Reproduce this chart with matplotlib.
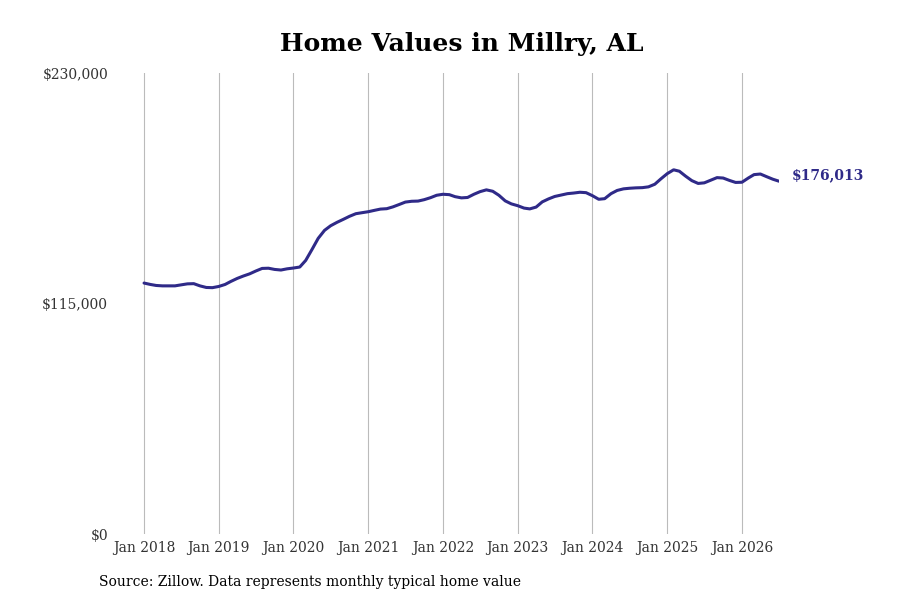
import matplotlib
matplotlib.use("Agg")
import matplotlib.pyplot as plt
import pandas as pd

plt.rcParams['font.family'] = ['DejaVu Serif']

start = "2018-01-01"
values = [
    # 2018
    125200, 124500, 124000, 123800, 123800, 123800, 124300, 124800, 124900, 123800, 123000, 122900,
    # 2019
    123500, 124500, 126000, 127500, 128700, 129800, 131200, 132500, 132600, 132000, 131700, 132300,
    # 2020
    132700, 133200, 136500, 142000, 147500, 151500, 153800, 155500, 157000, 158500, 159800, 160300,
    # 2021
    160800, 161500, 162100, 162300, 163200, 164400, 165600, 166000, 166100, 166800, 167800, 169000,
    # 2022
    169500, 169300, 168300, 167700, 167900, 169500, 170800, 171700, 171000, 169000, 166200, 164700,
    # 2023
    163800, 162600, 162200, 163100, 165700, 167200, 168400, 169100, 169800, 170100, 170500, 170300,
    # 2024
    168800, 167000, 167300, 169800, 171400, 172200, 172500, 172700, 172800, 173200, 174500, 177200,
    # 2025
    179800, 181700, 181000, 178500, 176300, 174900, 175200, 176500, 177800, 177600, 176400, 175400,
    # 2026
    175500, 177600, 179300, 179600, 178300, 177000, 176013,
]
dates = pd.date_range(start, periods=len(values), freq="MS")
title = "Home Values in Millry, AL"
source = "Source: Zillow. Data represents monthly typical home value"
y_ticks = [0, 115000, 230000]
y_labels = ["$0", "$115,000", "$230,000"]
x_years = list(range(2018, 2027))
end_label = "$176,013"
color = "#2F2A88"

fig = plt.figure(figsize=(9, 6), dpi=100)
ax = fig.add_axes([115/900, 1-534/600, (779-115)/900, (534-73)/600])
ax.plot(dates, values, color=color, lw=2.2, solid_capstyle="round")

ax.set_ylim(0, 230000)
ax.set_xlim(pd.Timestamp("2017-08-12"), dates[-1])
ax.set_yticks(y_ticks)
ax.set_yticklabels(y_labels)
xt = [pd.Timestamp(f"{y}-01-01") for y in x_years]
ax.set_xticks(xt)
ax.set_xticklabels([f"Jan {y}" for y in x_years])
ax.tick_params(axis="both", length=0, labelsize=10, colors="#333333")
ax.tick_params(axis="y", pad=5)
ax.tick_params(axis="x", pad=5)
ax.grid(axis="x", color="#bbbbbb", lw=0.8)
ax.grid(axis="y", visible=False)
for s in ax.spines.values():
    s.set_visible(False)

ax.annotate(end_label, xy=(dates[-1], values[-1]), xytext=(9.5, 4.3),
            textcoords="offset points", color=color, fontsize=10,
            fontweight="bold", va="center", ha="left", annotation_clip=False)

fig.text(0.513, 1-43.5/600, title, ha="center", va="center", fontsize=18, fontweight="bold")
fig.text(99/900, 1-582/600, source, ha="left", va="center", fontsize=10)

fig.savefig("out.png", dpi=100)
